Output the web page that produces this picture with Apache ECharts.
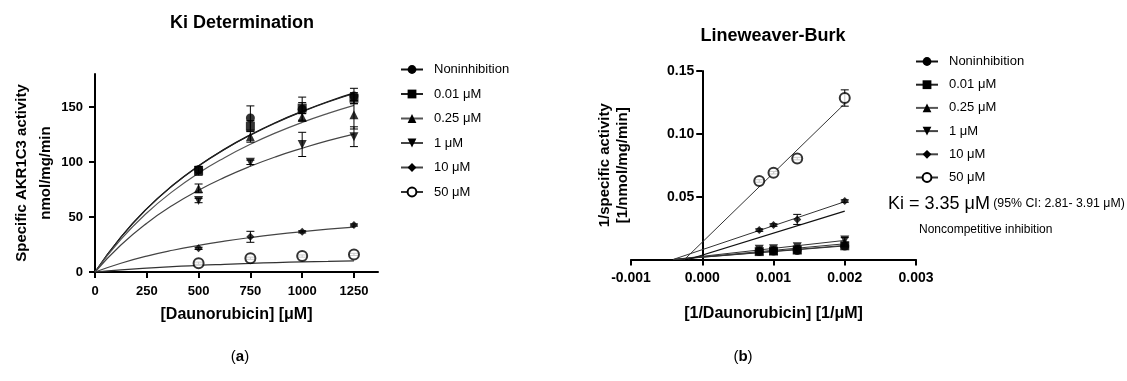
<!DOCTYPE html>
<html><head><meta charset="utf-8">
<script src="https://cdn.jsdelivr.net/npm/echarts@6/dist/echarts.min.js"></script>
<style>html,body{margin:0;padding:0;background:#fff}#c{width:1127px;height:381px}</style>
</head><body><div id="c"></div>
<script>
// ---------- data ----------
const groups = ['Noninhibition', '0.01 μM', '0.25 μM', '1 μM', '10 μM', '50 μM'];
const conc = [500, 750, 1000, 1250];                 // [Daunorubicin] µM
// panel (a): measured specific activity, nmol/mg/min
const actNon = [93, 140, 148, 160];
const act001 = [92, 132.6, 149, 158];
const act025 = [76, 123, 141, 143];
const act1   = [65, 99.7, 116, 123];
const act10  = [21.5, 32, 36.5, 42.7];
const act50  = [8, 12.5, 14.5, 16];
// panel (a): error (SD)
const errNon = [3, 11, 11, 7];
const err001 = [4, 5, 5, 5];
const err025 = [4, 5, 3, 13];
const err1   = [2, 2, 11, 9];
const err10  = [1, 5, 1, 1];
const err50  = [1, 1, 1, 1];
// panel (a): fitted curves
const curveX   = [0, 125, 250, 375, 500, 625, 750, 875, 1000, 1125, 1250];
const curveNon = [0, 31.8, 57.6, 78.8, 96.6, 111.7, 124.8, 136.2, 146.1, 155.0, 162.8];
const curve001 = [0, 31.7, 57.4, 78.6, 96.3, 111.4, 124.4, 135.8, 145.7, 154.5, 162.3];
const curve025 = [0, 29.6, 53.6, 73.3, 89.9, 103.9, 116.1, 126.7, 136.0, 144.2, 151.5];
const curve1   = [0, 24.5, 44.4, 60.7, 74.4, 86.0, 96.1, 104.9, 112.5, 119.4, 125.4];
const curve10  = [0, 8.0, 14.5, 19.8, 24.2, 28.0, 31.3, 34.2, 36.7, 38.9, 40.8];
const curve50  = [0, 2.0, 3.6, 4.9, 6.1, 7.0, 7.8, 8.6, 9.2, 9.7, 10.2];
// panel (b): Lineweaver-Burk points
const recX   = [0.0008, 0.001, 0.001333, 0.002];   // 1/[Daunorubicin]
const recNon = [0.0063, 0.0068, 0.0072, 0.0107];
const rec001 = [0.0063, 0.0067, 0.0075, 0.0109];
const rec025 = [0.0070, 0.0071, 0.0081, 0.0132];
const rec1   = [0.0081, 0.0086, 0.0101, 0.0156];
const rec10  = [0.0234, 0.0274, 0.0319, 0.0465];
const rec50  = [0.0625, 0.0691, 0.0803, 0.1285];
const recErr10 = [0.001, 0.001, 0.004, 0.001];
const recErr50 = [0.001, 0.001, 0.001, 0.0065];
const recErr1  = [0.0005, 0.0005, 0.0005, 0.0018];
// panel (b): regression lines [x start, x end] -> [y start, y end]
const lbX_Non = [-0.0004, 0.002],  lbY_Non = [0, 0.0108];
const lbX_001 = [-0.0004, 0.002],  lbY_001 = [0, 0.0112];
const lbX_025 = [-0.0004, 0.002],  lbY_025 = [0, 0.0125];
const lbX_1   = [-0.0004, 0.002],  lbY_1   = [0, 0.0152];
const lbX_10  = [-0.00041, 0.002], lbY_10  = [0, 0.046];
const lbX_ext = [-0.0002, 0.002],  lbY_ext = [0, 0.0385];
const lbX_50  = [-0.00025, 0.002], lbY_50  = [0, 0.124];
// ticks
const xTicksA = [0, 250, 500, 750, 1000, 1250];
const yTicksA = [0, 50, 100, 150];
const xTicksB = [-0.001, 0, 0.001, 0.002, 0.003];
const yTicksB = [0.05, 0.10, 0.15];
const yTickMarksB = [0, 0.05, 0.10, 0.15];

// ---------- styling ----------
const FF = '"Liberation Sans", Arial, Helvetica, sans-serif';
const symbols = ['circle', 'rect', 'triangle', 'triangle', 'diamond', 'emptyCircle'];
const rotates = [0, 0, 0, 180, 0, 0];
const sizes   = [9, 9, 9, 9, 8, 10];
const curveColors = ['#111', '#222', '#555', '#444', '#444', '#333'];

const acts = [actNon, act001, act025, act1, act10, act50];
const errs = [errNon, err001, err025, err1, err10, err50];
const curves = [curveNon, curve001, curve025, curve1, curve10, curve50];
const recs = [recNon, rec001, rec025, rec1, rec10, rec50];
const lbXs = [lbX_Non, lbX_001, lbX_025, lbX_1, lbX_10, lbX_50];
const lbYs = [lbY_Non, lbY_001, lbY_025, lbY_1, lbY_10, lbY_50];

function errRender(params, api) {
  const x = api.value(0), lo = api.value(1), hi = api.value(2);
  const a = api.coord([x, hi]), b = api.coord([x, lo]);
  const w = 4;
  const st = { stroke: '#000', lineWidth: 1 };
  return { type: 'group', children: [
    { type: 'line', shape: { x1: a[0], y1: a[1], x2: b[0], y2: b[1] }, style: st },
    { type: 'line', shape: { x1: a[0] - w, y1: a[1], x2: a[0] + w, y2: a[1] }, style: st },
    { type: 'line', shape: { x1: b[0] - w, y1: b[1], x2: b[0] + w, y2: b[1] }, style: st }
  ]};
}

const series = [];
// panel (a)
groups.forEach((g, i) => {
  series.push({
    name: g, type: 'line', xAxisIndex: 0, yAxisIndex: 0,
    data: curveX.map((x, k) => [x, curves[i][k]]),
    smooth: true, showSymbol: false, symbol: symbols[i], symbolRotate: rotates[i],
    symbolSize: sizes[i], color: '#000',
    lineStyle: { color: curveColors[i], width: 1.2 }, z: 2
  });
});
groups.forEach((g, i) => {
  series.push({
    type: 'custom', xAxisIndex: 0, yAxisIndex: 0, renderItem: errRender, z: 3,
    data: conc.map((c, k) => [c, acts[i][k] - errs[i][k], acts[i][k] + errs[i][k]])
  });
});
groups.forEach((g, i) => {
  series.push({
    name: g, type: 'scatter', xAxisIndex: 0, yAxisIndex: 0,
    data: conc.map((c, k) => [c, acts[i][k]]),
    symbol: symbols[i], symbolRotate: rotates[i], symbolSize: sizes[i],
    itemStyle: { color: '#000', borderColor: '#000', borderWidth: i === 5 ? 1.6 : 0 }, z: 4
  });
});
// panel (b)
groups.forEach((g, i) => {
  series.push({
    name: g, type: 'line', xAxisIndex: 1, yAxisIndex: 1,
    data: lbXs[i].map((x, k) => [x, lbYs[i][k]]),
    showSymbol: false, symbol: symbols[i], symbolRotate: rotates[i], symbolSize: sizes[i],
    color: '#000', lineStyle: { color: '#333', width: 1 }, z: 2
  });
});
series.push({
  type: 'line', xAxisIndex: 1, yAxisIndex: 1, showSymbol: false,
  data: lbX_ext.map((x, k) => [x, lbY_ext[k]]),
  lineStyle: { color: '#111', width: 1.2 }, z: 2
});
[[rec1, recErr1], [rec10, recErr10], [rec50, recErr50]].forEach(([v, e]) => {
  series.push({
    type: 'custom', xAxisIndex: 1, yAxisIndex: 1, renderItem: errRender, z: 3,
    data: recX.map((x, k) => [x, v[k] - e[k], v[k] + e[k]])
  });
});
groups.forEach((g, i) => {
  series.push({
    name: g, type: 'scatter', xAxisIndex: 1, yAxisIndex: 1,
    data: recX.map((x, k) => [x, recs[i][k]]),
    symbol: symbols[i], symbolRotate: rotates[i], symbolSize: sizes[i],
    itemStyle: { color: '#000', borderColor: '#000', borderWidth: i === 5 ? 1.6 : 0 }, z: 4
  });
});

const axisLineOn = { show: true, onZero: true, lineStyle: { color: '#000', width: 2 } };
const axisLineOff = { show: true, onZero: false, lineStyle: { color: '#000', width: 2 } };
const tickStyle = { lineStyle: { color: '#000', width: 2 } };
const labelFont = { color: '#000', fontFamily: FF, fontWeight: 'bold' };
const nameFont = { color: '#000', fontFamily: FF, fontWeight: 'bold' };

const gridB = { left: 631, top: 71, width: 285, height: 188.5 };
// y axis of panel (b) sits at x = 0 of its x axis (-0.001..0.003)
const offsetB = -gridB.width * (0 - (-0.001)) / (0.003 - (-0.001));

const option = {
  animation: false,
  backgroundColor: '#fff',
  grid: [
    { left: 95, top: 74, width: 283, height: 198 },
    gridB
  ],
  xAxis: [
    { type: 'value', gridIndex: 0, min: 0, max: 1366, splitLine: { show: false },
      axisLine: axisLineOn, axisTick: Object.assign({ length: 6, customValues: xTicksA }, tickStyle),
      axisLabel: Object.assign({ customValues: xTicksA, fontSize: 13, margin: 13,
        formatter: v => String(v) }, labelFont),
      name: '[Daunorubicin] [μM]', nameLocation: 'middle', nameGap: 35,
      nameTextStyle: Object.assign({ fontSize: 16 }, nameFont) },
    { type: 'value', gridIndex: 1, min: -0.001, max: 0.003, interval: 0.001, splitLine: { show: false },
      axisLine: axisLineOn, axisTick: Object.assign({ length: 6, customValues: xTicksB }, tickStyle),
      axisLabel: Object.assign({ customValues: xTicksB, fontSize: 14, margin: 12,
        formatter: v => v.toFixed(3) }, labelFont),
      name: '[1/Daunorubicin] [1/μM]', nameLocation: 'middle', nameGap: 46,
      nameTextStyle: Object.assign({ fontSize: 16 }, nameFont) }
  ],
  yAxis: [
    { type: 'value', gridIndex: 0, min: 0, max: 180, splitLine: { show: false },
      axisLine: axisLineOn, axisTick: Object.assign({ length: 6, customValues: yTicksA }, tickStyle),
      axisLabel: Object.assign({ customValues: yTicksA, fontSize: 13, margin: 12 }, labelFont),
      name: 'Specific AKR1C3 activity\nnmol/mg/min', nameLocation: 'middle', nameGap: 37,
      nameTextStyle: Object.assign({ fontSize: 15, lineHeight: 24 }, nameFont) },
    { type: 'value', gridIndex: 1, min: 0, max: 0.15, interval: 0.05, splitLine: { show: false },
      position: 'left', offset: offsetB,
      axisLine: axisLineOff, axisTick: Object.assign({ length: 6, customValues: yTickMarksB }, tickStyle),
      axisLabel: Object.assign({ customValues: yTicksB, fontSize: 14, margin: 8,
        formatter: v => v.toFixed(2) }, labelFont),
      name: '1/specific activity\n[1/nmol/mg/min]', nameLocation: 'middle', nameGap: 70,
      nameTextStyle: Object.assign({ fontSize: 15, lineHeight: 18 }, nameFont) }
  ],
  legend: [
    { data: groups, orient: 'vertical', left: 400, top: 63, padding: 0, itemWidth: 22, itemHeight: 11,
      itemGap: 11.5, selectedMode: false,
      textStyle: { fontFamily: FF, fontSize: 13, color: '#000', lineHeight: 13, padding: [0, 0, 0, 6] } },
    { data: groups, orient: 'vertical', left: 915, top: 55, padding: 0, itemWidth: 22, itemHeight: 11,
      itemGap: 10.2, selectedMode: false,
      textStyle: { fontFamily: FF, fontSize: 13, color: '#000', lineHeight: 13, padding: [0, 0, 0, 6] } }
  ],
  graphic: [
    { type: 'text', x: 242, y: 23, style: { text: 'Ki Determination', font: 'bold 18px ' + FF,
      textAlign: 'center', textVerticalAlign: 'middle', align: 'center', verticalAlign: 'middle', fill: '#000' } },
    { type: 'text', x: 773, y: 36, style: { text: 'Lineweaver-Burk', font: 'bold 18px ' + FF,
      textAlign: 'center', textVerticalAlign: 'middle', align: 'center', verticalAlign: 'middle', fill: '#000' } },
    { type: 'text', x: 888, y: 204, style: { text: '{k|Ki = 3.35 μM} {c|(95% CI: 2.81- 3.91 μM)}',
      textVerticalAlign: 'middle', verticalAlign: 'middle', fill: '#000',
      rich: { k: { fontFamily: FF, fontSize: 18, fill: '#000' }, c: { fontFamily: FF, fontSize: 12.3, fill: '#000' } } } },
    { type: 'text', x: 919, y: 230, style: { text: 'Noncompetitive inhibition', font: '12px ' + FF,
      textVerticalAlign: 'middle', verticalAlign: 'middle', fill: '#000' } },
    { type: 'text', x: 240, y: 357, style: { text: '({b|a})', font: '15px ' + FF,
      textAlign: 'center', textVerticalAlign: 'middle', align: 'center', verticalAlign: 'middle', fill: '#000',
      rich: { b: { fontFamily: FF, fontSize: 15, fontWeight: 'bold', fill: '#000' } } } },
    { type: 'text', x: 743, y: 357, style: { text: '({b|b})', font: '15px ' + FF,
      textAlign: 'center', textVerticalAlign: 'middle', align: 'center', verticalAlign: 'middle', fill: '#000',
      rich: { b: { fontFamily: FF, fontSize: 15, fontWeight: 'bold', fill: '#000' } } } }
  ],
  series
};
const chart = echarts.init(document.getElementById('c'), null, { renderer: 'canvas' });
chart.setOption(option);
</script></body></html>
